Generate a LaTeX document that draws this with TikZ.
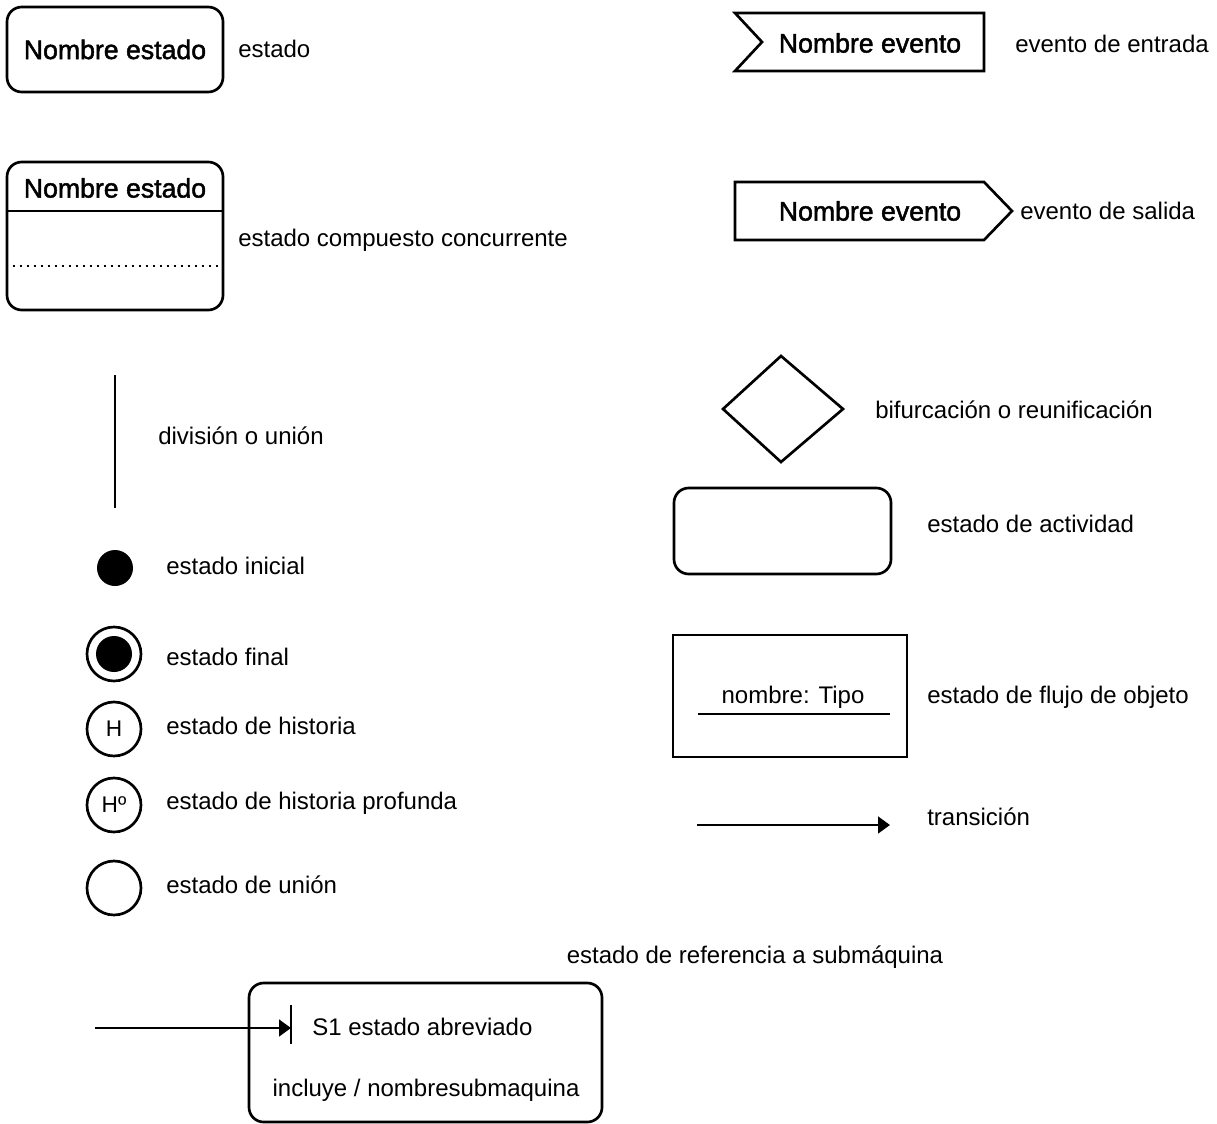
\documentclass[tikz,border=0pt]{standalone}
\usepackage{fontspec}
\setmainfont{Liberation Sans}
\newfontfamily\medfont[FakeBold=1.8]{Liberation Sans}
\usetikzlibrary{arrows.meta}
\begin{document}
\begin{tikzpicture}[x=0.75pt,y=-0.75pt,
  ln/.style={line width=2pt,draw=black},
  lbl/.style={anchor=west,inner sep=0pt,font=\fontsize{18}{22}\selectfont},
  txt/.style={inner sep=0pt,font=\fontsize{18}{22}\selectfont},
  ttl/.style={inner sep=0pt,font=\medfont\fontsize{20}{24}\selectfont},
  rbox/.style={ln,rounded corners=11pt,inner sep=0pt},
  ring/.style={ln,circle,inner sep=0pt,minimum size=40.5pt,font=\fontsize{17}{20}\selectfont},
  dot/.style={circle,fill=black,inner sep=0pt,minimum size=27pt},
  tip/.style={-{Triangle[length=9pt,width=12.5pt]}}]
\useasboundingbox (0,0) rectangle (1217,1124);

% simple state
\node[rbox,minimum width=162pt,minimum height=63.75pt,ttl] (st) at (115,49.5) {Nombre estado};
\node[lbl] (stl) at (238,49) {estado};

% concurrent composite state
\node[rbox,minimum width=162pt,minimum height=111pt] (comp) at (115,236) {};
\node[ttl] (compt) at (115,188) {Nombre estado};
\coordinate (cl1) at (0,211);
\coordinate (cl2) at (0,266);
\draw[ln] (comp.west |- cl1) -- ([xshift=-2pt]comp.east |- cl1);
\draw[line width=2pt,dash pattern=on 1.9pt off 3.35pt] (comp.west |- cl2) -- (comp.east |- cl2);
\node[lbl] (compl) at (238,240) {estado compuesto concurrente};

% fork / join bar
\coordinate (bar1) at (115,375);
\coordinate (bar2) at (115,508);
\draw[ln] (bar1) -- (bar2);
\node[lbl] (barl) at (158,436) {división o unión};

% initial state
\node[dot] (ini) at (115,568) {};
\node[lbl] (inil) at (166,566) {estado inicial};

% final state
\node[ring] (fin) at (114,654) {};
\node[dot] (fini) at (fin.center) {};
\node[lbl] (finl) at (166,657) {estado final};

% history states
\node[ring] (hist) at (114,729) {H};
\node[lbl] (histl) at (166,726) {estado de historia};
\node[ring] (dhist) at (114,805) {Hº};
\node[lbl] (dhistl) at (166,803) {estado de historia profunda};

% junction state
\node[ring] (junc) at (114,888) {};
\node[lbl] (juncl) at (166,885) {estado de unión};

% input event
\draw[ln] (735,13) -- (984,13) -- (984,71) -- (735,71) -- (762,42) -- cycle;
\node[ttl] (inev) at (870,43) {Nombre evento};
\node[lbl] (inevl) at (1015,44) {evento de entrada};

% output event
\draw[ln] (735,182) -- (984,182) -- (1012,211) -- (984,240) -- (735,240) -- cycle;
\node[ttl] (outev) at (870,211) {Nombre evento};
\node[lbl] (outevl) at (1020,211) {evento de salida};

% decision
\draw[ln,line join=miter] (781,356) -- (843,409) -- (781,462) -- (723,409) -- cycle;
\node[lbl] (decl) at (875,410) {bifurcación o reunificación};

% activity state
\node[rbox,minimum width=162.75pt,minimum height=64.5pt] (act) at (782.5,531) {};
\node[lbl] (actl) at (927,524) {estado de actividad};

% object flow state
\node[ln,rectangle,inner sep=0pt,minimum width=175.5pt,minimum height=91.5pt] (obj) at (790,696) {};
\node[txt] (objt) at (793,697) {nombre: Tipo};
\coordinate (ou1) at (698,714);
\coordinate (ou2) at (890,714);
\draw[ln] (ou1) -- (ou2);
\node[lbl] (objl) at (927,697) {estado de flujo de objeto};

% transition
\coordinate (tr1) at (697,825);
\coordinate (tr2) at (890,825);
\draw[ln,tip] (tr1) -- (tr2);
\node[lbl] (trl) at (927,817) {transición};

% submachine reference state
\node[txt] (subt) at (755,957) {estado de referencia a submáquina};
\node[rbox,minimum width=264.75pt,minimum height=104.25pt] (sub) at (425.5,1052.5) {};
\coordinate (sb1) at (291,1005);
\coordinate (sb2) at (291,1044);
\draw[ln] (sb1) -- (sb2);
\coordinate (sa) at (95,1028);
\draw[ln,tip] (sa) -- (sb1 |- sa);
\node[lbl] (s1) at (312,1027) {S1 estado abreviado};
\node[txt] (inc) at (426,1090) {incluye / nombresubmaquina};
\end{tikzpicture}
\end{document}
